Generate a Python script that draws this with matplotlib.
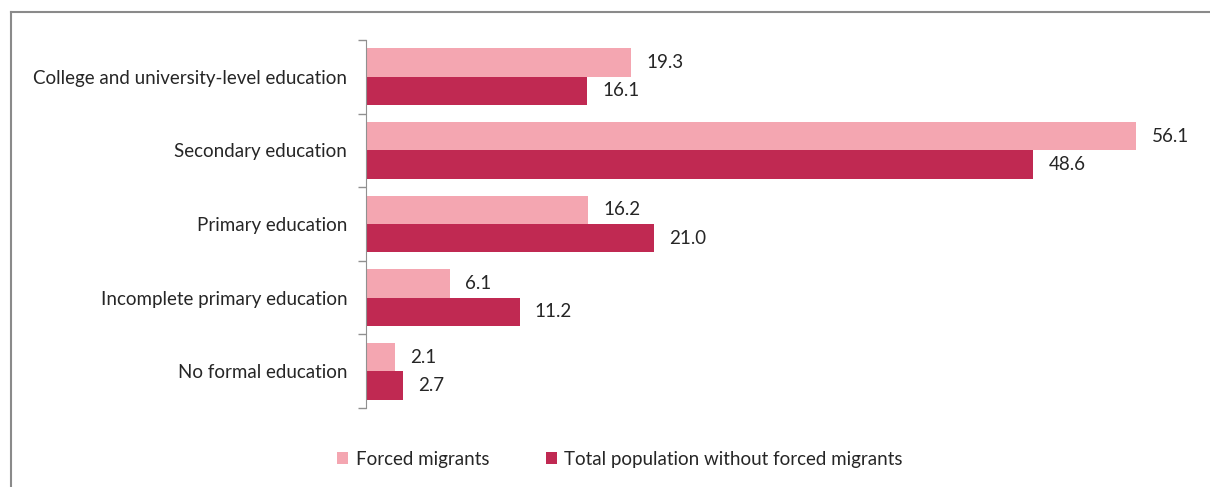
import matplotlib.pyplot as plt
from matplotlib.lines import Line2D
from matplotlib.patches import Patch
import numpy as np

plt.rcParams['font.family'] = ['Lato', 'DejaVu Sans']

categories = [
    "College and university-level education",
    "Secondary education",
    "Primary education",
    "Incomplete primary education",
    "No formal education",
]
forced_migrants = [19.3, 56.1, 16.2, 6.1, 2.1]
total_without_forced = [16.1, 48.6, 21.0, 11.2, 2.7]
series_names = ["Forced migrants", "Total population without forced migrants"]

c_light = "#F4A6B1"
c_dark = "#C02952"
text_c = "#262626"
fs = 13.5

fig = plt.figure(figsize=(12.1, 4.87), dpi=100)
ax = fig.add_axes([366 / 1210, 1 - 408 / 487, (1190 - 366) / 1210, (408 - 40) / 487])

n = len(categories)
y = np.arange(n)
h = 0.385
ax.barh(y - h / 2, forced_migrants, height=h, color=c_light, edgecolor='none')
ax.barh(y + h / 2, total_without_forced, height=h, color=c_dark, edgecolor='none')

for yi, v in zip(y, forced_migrants):
    ax.text(v + 1.1, yi - h / 2, f"{v:.1f}", va='center', ha='left', fontsize=fs, color=text_c)
for yi, v in zip(y, total_without_forced):
    ax.text(v + 1.1, yi + h / 2, f"{v:.1f}", va='center', ha='left', fontsize=fs, color=text_c)

ax.set_ylim(n - 0.5, -0.5)
ax.set_xlim(0, 60)
ax.set_yticks(y)
ax.set_yticklabels(categories, fontsize=fs, color=text_c)
ax.tick_params(axis='y', length=0, pad=13.5)
ax.set_yticks(np.arange(n + 1) - 0.5, minor=True)
ax.tick_params(axis='y', which='minor', length=6, color='#909090', width=1)
ax.set_xticks([])
for s in ['top', 'right', 'bottom']:
    ax.spines[s].set_visible(False)
ax.spines['left'].set_color('#909090')

handles = [Patch(facecolor=c_light, edgecolor='none'), Patch(facecolor=c_dark, edgecolor='none')]
fig.legend(handles, series_names, loc='center', bbox_to_anchor=(620 / 1210, 1 - 459 / 487),
           ncol=2, frameon=False, fontsize=fs, handlelength=0.6, handleheight=0.6,
           handletextpad=0.4, columnspacing=3.0, labelcolor=text_c)

# chart frame (left and top edges)
fig.add_artist(Line2D([11 / 1210, 11 / 1210], [0, 1 - 12 / 487], transform=fig.transFigure,
                      color='#8a8a8a', lw=1.5))
fig.add_artist(Line2D([11 / 1210, 1], [1 - 12 / 487, 1 - 12 / 487], transform=fig.transFigure,
                      color='#8a8a8a', lw=1.5))

fig.savefig("out.png", dpi=100, facecolor='white')
